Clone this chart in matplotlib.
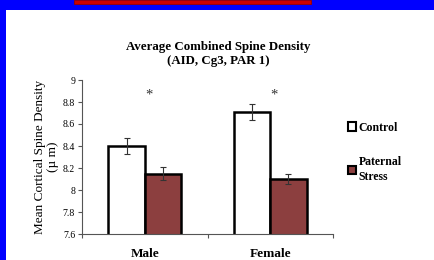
import matplotlib
matplotlib.use("Agg")
import matplotlib.pyplot as plt
from matplotlib.patches import Rectangle, Patch
import numpy as np

categories = ["Male", "Female"]
control = [8.40, 8.71]
control_err = [0.07, 0.075]
stress = [8.15, 8.10]
stress_err = [0.055, 0.045]
series_names = ["Control", "Paternal\nStress"]

W, H = 434, 260
fig = plt.figure(figsize=(W / 100, H / 100), dpi=100)
fig.patch.set_facecolor("#0000ff")
plt.rcParams["font.family"] = ["Liberation Serif", "DejaVu Serif"]

# white panel and red strip at top
fig.patches.append(Rectangle((6 / W, 0), 1 - 6 / W, (H - 10) / H,
                             transform=fig.transFigure, facecolor="white",
                             edgecolor="none", zorder=0))
fig.patches.append(Rectangle((74 / W, 1 - 3.5 / H), (311 - 74) / W, 3.5 / H,
                             transform=fig.transFigure, facecolor="#cc0000",
                             edgecolor="#990000", linewidth=0.6, zorder=1))

ax = fig.add_axes([82 / W, 26 / H, (333 - 82) / W, (234 - 80) / H])
ax.set_zorder(3)
ax.set_facecolor("none")

x = np.arange(len(categories))
bw = 0.29
ax.bar(x - bw / 2, control, bw, color="white", edgecolor="black",
       linewidth=1.8, zorder=2)
ax.bar(x + bw / 2, stress, bw, color="#8c3f3f", edgecolor="black",
       linewidth=1.8, zorder=2)
ax.errorbar(x - bw / 2, control, yerr=control_err, fmt="none", ecolor="#333333",
            elinewidth=0.8, capsize=2.5, capthick=0.8, zorder=3)
ax.errorbar(x + bw / 2, stress, yerr=stress_err, fmt="none", ecolor="#333333",
            elinewidth=0.8, capsize=2.5, capthick=0.8, zorder=3)

for xi in x:
    ax.text(xi + 0.03, 8.86, "*", ha="center", va="center", fontsize=10.5,
            color="#333333")

ax.set_ylim(7.6, 9.0)
ax.set_xlim(-0.5, 1.5)
ax.set_yticks(np.arange(7.6, 9.01, 0.2))
ax.set_yticklabels(["7.6", "7.8", "8", "8.2", "8.4", "8.6", "8.8", "9"],
                   fontsize=7)
ax.set_xticks([-0.5, 0.5, 1.5])
ax.set_xticklabels([])
ax.set_xticks(x, minor=True)
ax.set_xticklabels(categories, minor=True, fontsize=9.5, fontweight="bold")
ax.tick_params(axis="x", which="minor", length=0, pad=10)
ax.tick_params(axis="x", which="major", length=3, color="#555555")
ax.tick_params(axis="y", length=3, color="#555555", pad=2)
for s in ["top", "right"]:
    ax.spines[s].set_visible(False)
for s in ["left", "bottom"]:
    ax.spines[s].set_color("#555555")
    ax.spines[s].set_linewidth(0.8)

ax.set_ylabel("Mean Cortical Spine Density\n(µ m)", fontsize=9.5, labelpad=3,
              linespacing=1.05)

fig.text(218 / W, 1 - 54 / H, "Average Combined Spine Density\n(AID, Cg3, PAR 1)",
         ha="center", va="center", fontsize=9.3, fontweight="bold",
         linespacing=1.2)

handles = [Patch(facecolor="white", edgecolor="black", linewidth=1.5),
           Patch(facecolor="#8c3f3f", edgecolor="black", linewidth=1.5)]
leg = fig.legend(handles, series_names, loc="upper left",
                 bbox_to_anchor=(337 / W, 1 - 111 / H), frameon=False,
                 handlelength=0.7, handleheight=0.7, handletextpad=0.25,
                 labelspacing=1.9, prop={"size": 8.5, "weight": "bold"})
for t in leg.get_texts():
    t.set_linespacing(1.3)

fig.savefig("out.png", dpi=100, facecolor=fig.get_facecolor())
